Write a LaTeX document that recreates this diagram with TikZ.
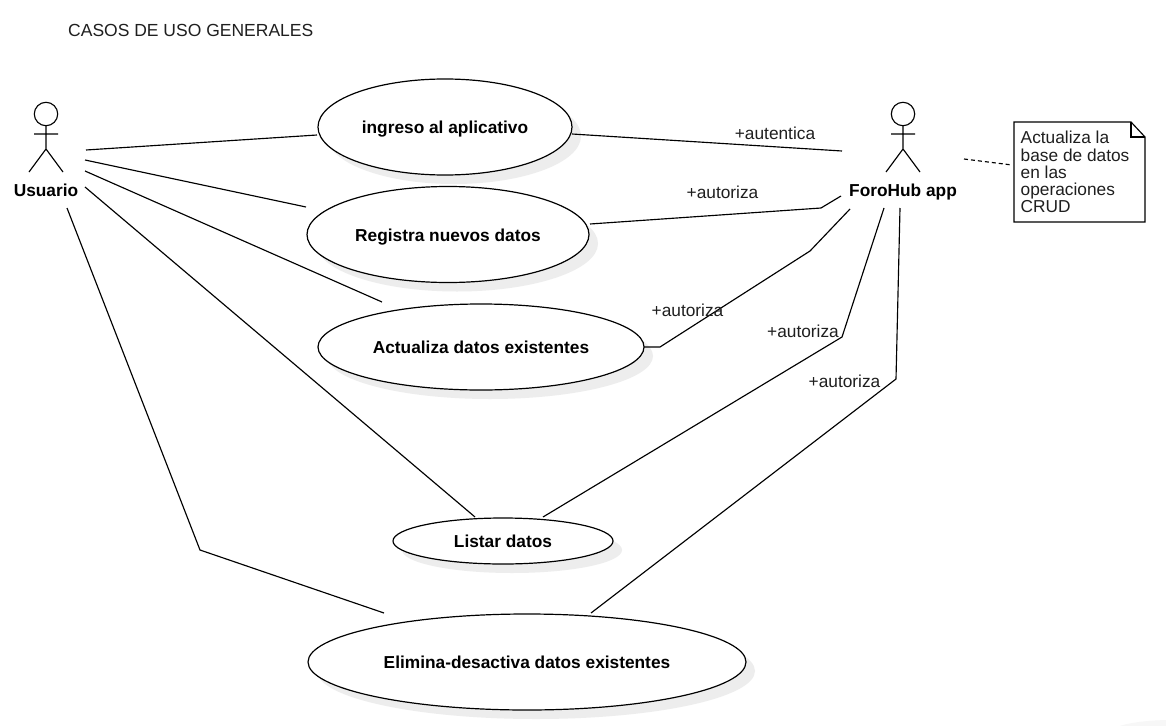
\documentclass[tikz,border=0pt]{standalone}
\usepackage{fontspec}
\setmainfont{Liberation Sans}
\usetikzlibrary{shapes.geometric}
\definecolor{shadowgrey}{gray}{0.93}
\definecolor{ink}{gray}{0.12}
\tikzset{
  x=1pt,y=-1pt,
  usecase/.style={draw=black,line width=1.2pt,ellipse,fill=white,inner sep=0pt,font=\fontsize{17.3}{20}\selectfont\bfseries,text=black,text height=15pt,text depth=2pt},
  link/.style={draw=black,line width=1.15pt},
  stick/.style={draw=black,line width=1.15pt},
  actorname/.style={font=\fontsize{17.3}{20}\selectfont\bfseries,text=black,inner sep=0pt,text height=15pt,text depth=2pt},
  tag/.style={font=\fontsize{17.3}{20}\selectfont,text=ink,inner sep=0pt,text height=15pt,text depth=2pt},
  notetext/.style={font=\fontsize{17.3}{17.3}\selectfont,text=ink,align=left,anchor=north west,inner sep=0pt}
}
\begin{document}
\begin{tikzpicture}
\useasboundingbox (0,0) rectangle (1166,725);
\fill[white] (0,0) rectangle (1166,725);
\fill[gray!6] (1172,733) ellipse [x radius=62,y radius=13];
\node[tag,anchor=west,font=\fontsize{17.5}{20}\selectfont] (title) at (68,30) {CASOS DE USO GENERALES};
% shadows
\foreach \cx/\cy/\rx/\ry in {445/127/127/48, 448/234.5/141/48, 481/347/163/43, 503/541/110/23, 527/662/219/48}{
  \fill[shadowgrey] (\cx+9,\cy+9) ellipse [x radius=\rx,y radius=\ry];
}
% use cases
\node[usecase,minimum width=254pt,minimum height=96pt] (uc1) at (445,127) {ingreso al aplicativo};
\node[usecase,minimum width=282pt,minimum height=96pt] (uc2) at (448,234.5) {Registra nuevos datos};
\node[usecase,minimum width=326pt,minimum height=86pt] (uc3) at (481,347) {Actualiza datos existentes};
\node[usecase,minimum width=220pt,minimum height=46pt] (uc4) at (503,541) {Listar datos};
\node[usecase,minimum width=438pt,minimum height=96pt] (uc5) at (527,662) {Elimina-desactiva datos existentes};
% actors
\draw[stick] (46,114) circle (11.7);
\draw[stick] (46,126) -- (46,149) (34,134) -- (58,134) (29,172) -- (46,149) -- (63,172);
\node[actorname] (usuario) at (46,189.5) {Usuario};
\draw[stick] (903,114) circle (11.7);
\draw[stick] (903,126) -- (903,149) (891,134) -- (915,134) (886,172) -- (903,149) -- (920,172);
\node[actorname] (foro) at (903,189.5) {ForoHub app};
% note
\node[notetext] (notebody) at (1020.5,131) {Actualiza la\\base de datos\\en las\\operaciones\\CRUD};
\draw[stick,fill=none] (1014,122) -- (1131,122) -- (1145,137) -- (1145,222) -- (1014,222) -- cycle;
\draw[stick] (1131,122) -- (1131,137) -- (1145,137);
\coordinate (notein) at (1012,165);
\coordinate (noteout) at (964,159);
\draw[link,dashed,dash pattern=on 4pt off 3pt] (noteout) -- (notein);
% actor ends
\coordinate (ua) at (86,150);
\coordinate (ub) at (85,160);
\coordinate (uc) at (85,171);
\coordinate (ud) at (85,187);
\coordinate (ue) at (67,208);
\coordinate (fa) at (842,151);
\coordinate (fb) at (841,196);
\coordinate (fc) at (850,209);
\coordinate (fd) at (884,208);
\coordinate (fe) at (900,208);
% case ends
\coordinate (e1l) at (317,135);
\coordinate (e1r) at (572,134);
\coordinate (e2l) at (306,207);
\coordinate (e2r) at (590,224);
\coordinate (e3l) at (382,302);
\coordinate (e3r) at (644,347);
\coordinate (e4l) at (475,517);
\coordinate (e4r) at (543,517);
\coordinate (e5l) at (384,613);
\coordinate (e5r) at (591,613);
% connectors
\draw[link] (ua) -- (e1l);
\draw[link] (ub) -- (e2l);
\draw[link] (uc) -- (e3l);
\draw[link] (ud) -- (e4l);
\draw[link] (ue) -- (200,550) -- (e5l);
\draw[link] (e1r) -- (fa);
\draw[link] (e2r) -- (821,208) -- (fb);
\draw[link] (e3r) -- (660,347) -- (810,251) -- (fc);
\draw[link] (e4r) -- (842,337) -- (fd);
\draw[link] (e5r) -- (896,379) -- (fe);
% tags
\node[tag] (t1) at (775,133) {+autentica};
\node[tag] (t2) at (722.5,192) {+autoriza};
\node[tag] (t3) at (687.5,310) {+autoriza};
\node[tag] (t4) at (803,331) {+autoriza};
\node[tag] (t5) at (844.5,381) {+autoriza};
\end{tikzpicture}
\end{document}
